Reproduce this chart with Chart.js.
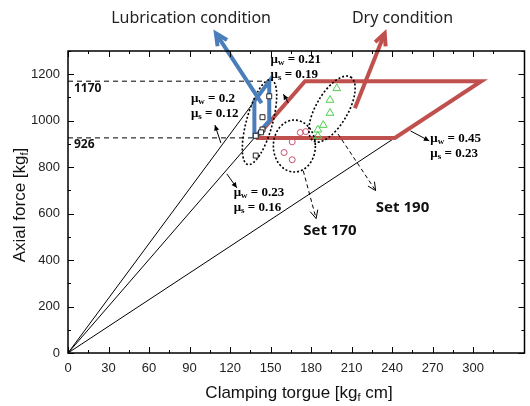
<!DOCTYPE html>
<html>
<head>
<meta charset="utf-8">
<script src="https://cdn.jsdelivr.net/npm/chart.js@4.4.1/dist/chart.umd.min.js"></script>
<style>
  html, body { margin: 0; padding: 0; background: #fff; }
</style>
</head>
<body>
<canvas id="chart" width="530" height="406"></canvas>
<script>
// axes
const xMax = 338;
const yMax = 1300;
const xLabelStep = 30;
const yLabelStep = 200;

// lines from origin (torque, axial force)
const steepLine = [[0, 0], [149, 1170]];
const midLine = [[0, 0], [138, 926]];
const flatLine = [[0, 0], [242, 926]];

// condition zones
const dryZone = [[139, 926], [242, 926], [306, 1170], [175.5, 1170], [139, 926]];
const lubZone = [[138, 926], [138, 1084], [149, 1170], [149, 1000], [138, 926]];

// reference levels
const refLevels = [1170, 926];
const refEnds = [149, 138];

// measured points
const lubTorque = [149, 144, 144, 143, 139, 139];
const lubForce = [1105, 1015, 962, 950, 935, 850];
const set170Torque = [176, 172, 166, 160, 166];
const set170Force = [953, 949, 909, 863, 832];
const set190Torque = [199, 194, 194, 189, 185, 185];
const set190Force = [1139, 1089, 1033, 981, 961, 934];

const toPts = arr => arr.map(p => ({ x: p[0], y: p[1] }));
const zip = (xs, ys) => xs.map((x, i) => ({ x: x, y: ys[i] }));

// annotation bits, placed in data units
const ellipses = [
    { x: 141.8, y: 994, rx: 44, ry: 13, rot: -74.5 },
    { x: 167.6, y: 891, rx: 21, ry: 26, rot: 0 },
    { x: 195.5, y: 1050, rx: 37, ry: 16, rot: -60 }
];
const muNotes = [
    { x: 150, y: 1264, w: '0.21', s: '0.19', from: [163.2, 1076], to: [159.5, 1114] },
    { x: 91, y: 1093, w: '0.2', s: '0.12', from: [113.2, 904], to: [108.8, 981] },
    { x: 122.7, y: 690, w: '0.23', s: '0.16', from: [117.6, 771], to: [125, 711] },
    { x: 268.3, y: 921, w: '0.45', s: '0.23', from: [253.6, 956], to: [267.5, 913] }
];
const setNotes = [
    { text: 'Set 170', x: 194, y: 527, from: [174.2, 784], to: [183.7, 579] },
    { text: 'Set 190', x: 247.7, y: 626, from: [199.9, 943], to: [227.8, 699] }
];
const bigArrows = [
    { text: 'Lubrication condition', color: '#4a7ebb', tx: 91.1, ty: 1440, from: [143.3, 1076], to: [109.5, 1376] },
    { text: 'Dry condition', color: '#c0504d', tx: 247.7, ty: 1440, from: [212.4, 1054], to: [234.5, 1376] }
];

function arrowHead(ctx, x1, y1, x2, y2, len, filled) {
    const a = Math.atan2(y2 - y1, x2 - x1);
    ctx.beginPath();
    ctx.moveTo(x2 - len * Math.cos(a - 0.45), y2 - len * Math.sin(a - 0.45));
    ctx.lineTo(x2, y2);
    ctx.lineTo(x2 - len * Math.cos(a + 0.45), y2 - len * Math.sin(a + 0.45));
    if (filled) { ctx.closePath(); ctx.fill(); } else { ctx.stroke(); }
}

const framePlugin = {
    id: 'frame',
    afterDraw(chart) {
        const ctx = chart.ctx;
        const a = chart.chartArea;
        ctx.save();
        ctx.strokeStyle = '#000';
        ctx.lineWidth = 1;
        chart.scales.x.ticks.forEach(t => {
            const p = Math.round(chart.scales.x.getPixelForValue(t.value)) + 0.5;
            const len = t.value % xLabelStep === 0 ? 6 : 3;
            ctx.beginPath();
            ctx.moveTo(p, a.bottom); ctx.lineTo(p, a.bottom - len);
            ctx.moveTo(p, a.top); ctx.lineTo(p, a.top + len);
            ctx.stroke();
        });
        chart.scales.y.ticks.forEach(t => {
            const p = Math.round(chart.scales.y.getPixelForValue(t.value)) + 0.5;
            const len = t.value % yLabelStep === 0 ? 6 : 3;
            ctx.beginPath();
            ctx.moveTo(a.left, p); ctx.lineTo(a.left + len, p);
            ctx.moveTo(a.right, p); ctx.lineTo(a.right - len, p);
            ctx.stroke();
        });
        ctx.lineWidth = 1.5;
        ctx.strokeRect(a.left, a.top, a.right - a.left, a.bottom - a.top);

        // axis titles with subscript f
        ctx.fillStyle = '#111';
        const big = '17px "Liberation Sans", Arial, sans-serif';
        const sub = '11px "Liberation Sans", Arial, sans-serif';
        function subTitle(parts, cx, cy) {
            ctx.font = big; const w1 = ctx.measureText(parts[0]).width;
            ctx.font = sub; const w2 = ctx.measureText(parts[1]).width;
            ctx.font = big; const w3 = ctx.measureText(parts[2]).width;
            let x = cx - (w1 + w2 + w3) / 2;
            ctx.textBaseline = 'middle';
            ctx.textAlign = 'left';
            ctx.font = big; ctx.fillText(parts[0], x, cy); x += w1;
            ctx.font = sub; ctx.fillText(parts[1], x, cy + 5); x += w2;
            ctx.font = big; ctx.fillText(parts[2], x, cy);
        }
        subTitle(['Clamping torgue [kg', 'f', ' cm]'], 299, 393);
        ctx.save();
        ctx.translate(20, 205);
        ctx.rotate(-Math.PI / 2);
        subTitle(['Axial force [kg', 'f', ']'], 0, 0);
        ctx.restore();
        ctx.restore();
    }
};

const notesPlugin = {
    id: 'notes',
    afterDatasetsDraw(chart) {
        const ctx = chart.ctx;
        const X = v => chart.scales.x.getPixelForValue(v);
        const Y = v => chart.scales.y.getPixelForValue(v);
        ctx.save();

        // dotted ellipses
        ctx.strokeStyle = '#000';
        ctx.lineWidth = 1.6;
        ctx.setLineDash([2, 2]);
        ellipses.forEach(e => {
            ctx.beginPath();
            ctx.ellipse(X(e.x), Y(e.y), e.rx, e.ry, e.rot * Math.PI / 180, 0, Math.PI * 2);
            ctx.stroke();
        });

        // dashed arrows to set labels
        ctx.lineWidth = 1;
        setNotes.forEach(n => {
            const x1 = X(n.from[0]), y1 = Y(n.from[1]), x2 = X(n.to[0]), y2 = Y(n.to[1]);
            ctx.setLineDash([4, 3]);
            ctx.beginPath(); ctx.moveTo(x1, y1); ctx.lineTo(x2, y2); ctx.stroke();
            ctx.setLineDash([]);
            arrowHead(ctx, x1, y1, x2, y2, 9, false);
            ctx.fillStyle = '#111';
            ctx.font = 'bold 15px "Noto Sans", "Open Sans", sans-serif';
            ctx.textAlign = 'center';
            ctx.textBaseline = 'middle';
            ctx.fillText(n.text, X(n.x), Y(n.y));
        });

        // friction coefficient notes
        ctx.setLineDash([]);
        muNotes.forEach(n => {
            const x1 = X(n.from[0]), y1 = Y(n.from[1]), x2 = X(n.to[0]), y2 = Y(n.to[1]);
            ctx.strokeStyle = '#000';
            ctx.fillStyle = '#000';
            ctx.lineWidth = 1;
            ctx.beginPath(); ctx.moveTo(x1, y1); ctx.lineTo(x2, y2); ctx.stroke();
            arrowHead(ctx, x1, y1, x2, y2, 6, true);
            const rows = [['w', n.w, Y(n.y)], ['s', n.s, Y(n.y) + 15]];
            ctx.textAlign = 'left';
            ctx.textBaseline = 'middle';
            rows.forEach(r => {
                let x = X(n.x);
                ctx.font = 'bold 13px "Liberation Serif", "Times New Roman", serif';
                ctx.fillText('\u03bc', x, r[2]); x += ctx.measureText('\u03bc').width;
                ctx.font = 'bold 9px "Liberation Serif", "Times New Roman", serif';
                ctx.fillText(r[0], x, r[2] + 3); x += ctx.measureText(r[0]).width;
                ctx.font = 'bold 13px "Liberation Serif", "Times New Roman", serif';
                ctx.fillText(' = ' + r[1], x, r[2]);
            });
        });

        // reference level values
        ctx.font = 'bold 12px "Noto Sans", "Open Sans", sans-serif';
        ctx.fillStyle = '#111';
        ctx.textAlign = 'left';
        ctx.textBaseline = 'middle';
        ctx.fillText(String(refLevels[0]), X(4.4), Y(1140));
        ctx.fillText(String(refLevels[1]), X(4.4), Y(896));

        // condition arrows
        bigArrows.forEach(b => {
            const x1 = X(b.from[0]), y1 = Y(b.from[1]), x2 = X(b.to[0]), y2 = Y(b.to[1]);
            ctx.strokeStyle = b.color;
            ctx.lineWidth = 4;
            ctx.lineCap = 'butt';
            ctx.lineJoin = 'miter';
            ctx.beginPath(); ctx.moveTo(x1, y1); ctx.lineTo(x2, y2); ctx.stroke();
            arrowHead(ctx, x1, y1, x2, y2, 13, false);
            ctx.fillStyle = '#222';
            ctx.font = '16px "Noto Sans", "Open Sans", sans-serif';
            ctx.textAlign = 'center';
            ctx.textBaseline = 'middle';
            ctx.fillText(b.text, X(b.tx), Y(b.ty));
        });
        ctx.restore();
    }
};

const lineSet = (pts, color, width, order, dash) => ({
    data: toPts(pts),
    showLine: true,
    borderColor: color,
    borderWidth: width,
    borderDash: dash || [],
    pointRadius: 0,
    fill: false,
    order: order
});

const datasets = [
    lineSet(steepLine, '#000', 1, 5),
    lineSet(midLine, '#000', 1, 5),
    lineSet(flatLine, '#000', 1, 5),
    lineSet([[0, refLevels[0]], [refEnds[0], refLevels[0]]], '#000', 1, 6, [5, 4]),
    lineSet([[0, refLevels[1]], [refEnds[1], refLevels[1]]], '#000', 1, 6, [5, 4]),
    lineSet(dryZone, '#c0504d', 4, 3),
    lineSet(lubZone, '#4a7ebb', 4, 2),
    {
        data: zip(lubTorque, lubForce),
        pointStyle: 'rect', pointRadius: 3.5,
        pointBackgroundColor: '#fff', pointBorderColor: '#222', pointBorderWidth: 1,
        order: 1
    },
    {
        data: zip(set170Torque, set170Force),
        pointStyle: 'circle', pointRadius: 3,
        pointBackgroundColor: 'rgba(255,255,255,0)', pointBorderColor: '#c8506a', pointBorderWidth: 1,
        order: 1
    },
    {
        data: zip(set190Torque, set190Force),
        pointStyle: 'triangle', pointRadius: 4.5,
        pointBackgroundColor: 'rgba(255,255,255,0)', pointBorderColor: '#4fcf4f', pointBorderWidth: 1,
        order: 1
    }
];

window.onload = function() {
    const ctx = document.getElementById('chart').getContext('2d');
    new Chart(ctx, {
        type: 'scatter',
        data: { datasets: datasets },
        plugins: [notesPlugin, framePlugin],
        options: {
            responsive: false,
            animation: false,
            devicePixelRatio: 1,
            layout: { padding: { top: 51, right: 2, left: 0, bottom: 0 } },
            plugins: { legend: { display: false }, tooltip: { enabled: false } },
            scales: {
                x: {
                    type: 'linear', min: 0, max: xMax,
                    afterBuildTicks: s => { s.ticks = s.ticks.filter(t => t.value % 15 === 0); },
                    afterFit: s => { s.height = 53; },
                    grid: { display: false, drawTicks: false },
                    border: { display: false },
                    ticks: {
                        stepSize: 15, padding: 8, maxRotation: 0, autoSkip: false,
                        color: '#222', font: { family: '"Liberation Sans", Arial, sans-serif', size: 13 },
                        callback: v => v % xLabelStep === 0 ? v : ''
                    }
                },
                y: {
                    type: 'linear', min: 0, max: yMax,
                    afterBuildTicks: s => { s.ticks = s.ticks.filter(t => t.value % 100 === 0); },
                    afterFit: s => { s.width = 68; },
                    grid: { display: false, drawTicks: false },
                    border: { display: false },
                    ticks: {
                        stepSize: 100, padding: 8, autoSkip: false,
                        color: '#222', font: { family: '"Liberation Sans", Arial, sans-serif', size: 13 },
                        callback: v => (v % yLabelStep === 0 && v <= 1200) ? v : ''
                    }
                }
            }
        }
    });
};
</script>
</body>
</html>
